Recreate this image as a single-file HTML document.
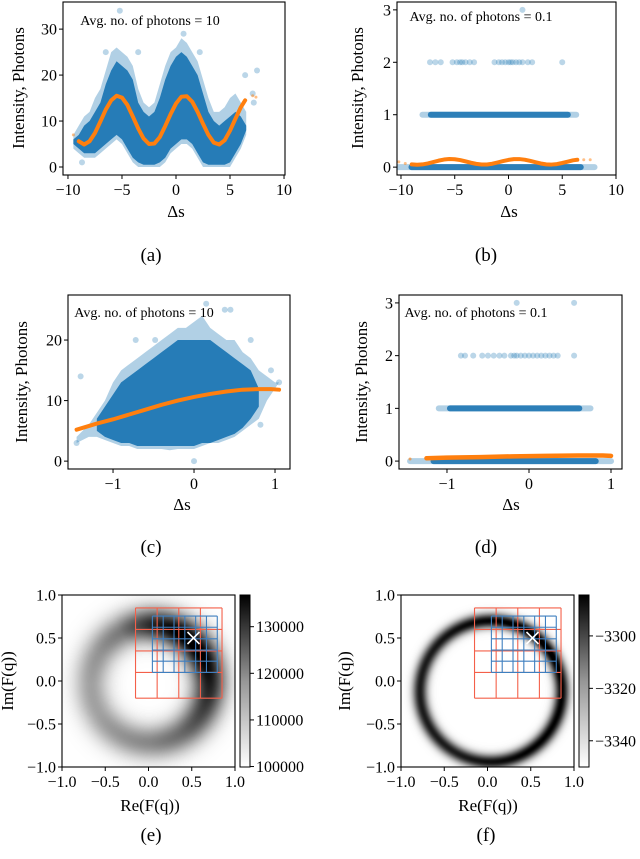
<!DOCTYPE html>
<html><head><meta charset="utf-8">
<style>
html,body{margin:0;padding:0;background:#fff;}
#wrap{position:relative;width:640px;height:859px;overflow:hidden;}
canvas{position:absolute;}
svg{position:absolute;left:0;top:0;}
text{font-family:"Liberation Serif",serif;fill:#000;}
</style></head>
<body>
<div id="wrap">
<canvas id="hmE" style="left:62px;top:595px" width="173" height="172"></canvas>
<canvas id="hmF" style="left:401px;top:595px" width="173" height="172"></canvas>
<svg id="svg" width="640" height="859" xmlns="http://www.w3.org/2000/svg"></svg>
</div>
<script>
// ---------- Panel (a) data ----------
const aCloudX = [-9.5,-9,-8.5,-8,-7.5,-7,-6.5,-6,-5.5,-5,-4.5,-4,-3.5,-3,-2.5,-2,-1.5,-1,-0.5,0,0.5,1,1.5,2,2.5,3,3.5,4,4.5,5,5.5,6,6.5];
const aOuterHi = [7,9,11,12,15,17,21,25,26,25,24,22,17,14,13,14,18,22,25,26,28,27,25,23,19,15,12,12,13,15,16,14,12];
const aOuterLo = [4,3,2,2,2,3,4,5,6,5,3,1,0,0,0,0,0,1,3,4,5,5,4,2,0,0,0,0,0,0,2,4,7];
const aCoreHi = [6,7,9,10,12,14,18,21,23,22,21,19,14,12,11,12,15,19,22,24,25,24,22,20,16,12,10,9,10,11,12,11,9];
const aCoreLo = [5,4,3,3,3,4,5,6,7,6,4,2,1,0.5,0.5,0.5,1,2,4,5,6,6,5,3,1,0.5,0.5,0.5,0.5,1,3,5,8];
const aOutX = [-5.2,0.7,-8.7,7.5,7.2,7.1,6.4,-3.5,-6.5,2.2];
const aOutY = [34,29,1,21,14,16,20,25,25,25];
const aFitX = [-9,-8.5,-8,-7.5,-7,-6.5,-6,-5.5,-5,-4.5,-4,-3.5,-3,-2.5,-2,-1.5,-1,-0.5,0,0.5,1,1.5,2,2.5,3,3.5,4,4.5,5,5.5,6,6.4];
const aFitY = [5.6,4.9,5.6,7.4,9.9,12.5,14.5,15.5,15.1,13.5,11.0,8.4,6.2,5.0,5.1,6.5,8.9,11.5,13.8,15.3,15.4,14.2,12.0,9.4,7.0,5.3,4.9,5.8,7.9,10.5,13.0,14.5];
const aFitOutX = [-9.5,7.1,7.4];
const aFitOutY = [7,15.5,15.2];
// ---------- Panel (b) data ----------
const bRowLevels = [0,1];
const bRowLightMin = [-10.3,-8.0];
const bRowLightMax = [8.0,6.3];
const bRowCoreMin = [-9.3,-7.5];
const bRowCoreMax = [7.0,5.8];
const bLvl2X = [-7.3,-6.8,-6.3,-5.2,-4.8,-4.5,-4.3,-4.0,-3.6,-3.2,-1.3,-0.9,-0.6,-0.3,0,0.2,0.4,0.7,1.0,1.3,1.8,2.2,5.0];
const bLvl3X = [1.3];
const bFitX = aFitX;
const bFitY = [0.052,0.045,0.052,0.071,0.097,0.124,0.145,0.155,0.151,0.135,0.110,0.084,0.062,0.050,0.051,0.065,0.089,0.115,0.138,0.153,0.154,0.142,0.120,0.094,0.070,0.053,0.049,0.058,0.079,0.105,0.130,0.140];
const bFitOutX = [-10.2,-9.6,7.0,7.6];
const bFitOutY = [0.1,0.07,0.14,0.14];
// ---------- Panel (c) data ----------
const cCloudX = [-1.45,-1.3,-1.2,-1.1,-1,-0.9,-0.8,-0.7,-0.6,-0.5,-0.4,-0.3,-0.2,-0.1,0,0.1,0.2,0.3,0.4,0.5,0.6,0.7,0.8,0.9,1.0,1.05];
const cOuterHi = [4,6,8,10,13,15,16,17,18,19,20,21,22,22,23,24,22,21,20,20,18,17,15,14,13,13];
const cOuterLo = [3,4,4,3.5,3,2.5,2.5,2,2,2,2,1.8,2,2,2,2.5,3,3,3.5,4,5,6,7,10,12,13];
const cCoreX = [-1.2,-1.1,-1,-0.9,-0.8,-0.7,-0.6,-0.5,-0.4,-0.3,-0.2,-0.1,0,0.1,0.2,0.3,0.4,0.5,0.6,0.7,0.8];
const cCoreHi = [7,9,11,13,14,15,16,17,18,19,20,20,20,20,20,19,18,17,16,15,12];
const cCoreLo = [5,4,3.5,3,3,2.5,2.5,2.5,2.5,2.5,2.5,2.5,2.5,3,3,3.5,4,4.5,5.5,7,9];
const cOutX = [-1.45,-1.4,-0.72,-0.48,0.15,0.38,0.45,0.7,0.95,1.05,0.82,0.0];
const cOutY = [3,14,20,20,26,25,25,20,15,13,6,0];
const cFitX = [-1.45,-1.2,-1,-0.8,-0.6,-0.4,-0.2,0,0.2,0.4,0.6,0.8,0.95,1.05];
const cFitY = [5.2,6.2,6.9,7.7,8.5,9.3,10.0,10.6,11.1,11.5,11.8,11.9,11.9,11.8];
// ---------- Panel (d) data ----------
const dRowLevels = [0,1];
const dRowLightMin = [-1.45,-1.1];
const dRowLightMax = [1.0,0.75];
const dRowCoreMin = [-1.2,-1.0];
const dRowCoreMax = [0.85,0.65];
const dLvl2X = [-0.83,-0.78,-0.68,-0.57,-0.5,-0.43,-0.36,-0.3,-0.22,-0.18,-0.15,-0.1,-0.05,0,0.05,0.1,0.15,0.2,0.25,0.3,0.35,0.55];
const dLvl3X = [-0.15,0.55];
const dFitX = [-1.25,-1.0,-0.6,-0.2,0.2,0.6,0.9,1.0];
const dFitY = [0.055,0.065,0.075,0.09,0.1,0.105,0.105,0.1];
// ---------- Panels (e),(f) data ----------
const ringAngles = [0,30,60,90,120,150,180,210,240,270,300,330,360];
const eAmp = [0.85,1.0,1.0,0.8,0.5,0.4,0.35,0.35,0.4,0.45,0.55,0.7,0.85];
const fAmp = [0.95,1.0,1.0,0.95,0.9,0.85,0.85,0.85,0.85,0.9,0.95,0.95,0.95];
const eRing = [0.02,-0.03,0.68,0.2]; // cx, cy, radius, width
const fRing = [0.04,-0.12,0.82,0.085];
const redCols = [-0.15,0.1,0.35,0.6,0.85];
const redRows = [0.85,0.6,0.35,0.1,-0.2];
const blueCols = [0.045,0.17,0.295,0.42,0.545,0.67,0.795];
const blueRows = [0.755,0.625,0.49,0.36,0.23,0.1];
const markerXY = [0.52,0.5];
const eCbTicks = [100000,110000,120000,130000];
const fCbTicks = [-3340,-3320,-3300];

const NS = "http://www.w3.org/2000/svg";
const svg = document.getElementById('svg');
function el(tag, attrs, parent){
  const e = document.createElementNS(NS, tag);
  for (const k in attrs) e.setAttribute(k, attrs[k]);
  (parent||svg).appendChild(e);
  return e;
}
const BLUE = '#1f77b4', ORANGE = '#ff7f0e';
const TICK = 16, LAB = 17, ANN = 14, CAP = 19;

function axes(name, L, T, R, B, xmin, xmax, ymin, ymax){
  const g = el('g', {});
  
  
  const sx = v => L + (v - xmin) / (xmax - xmin) * (R - L);
  const sy = v => B - (v - ymin) / (ymax - ymin) * (B - T);
  const clipId = name + '-clip';
  const cp = el('clipPath', {id: clipId}, g);
  el('rect', {x: L, y: T, width: R - L, height: B - T}, cp);
  const plot = el('g', {'clip-path': 'url(#' + clipId + ')'}, g);
  return {g, plot, sx, sy, L, T, R, B};
}
function frame(ax, xticks, xlabels, yticks, ylabels){
  const g = ax.g;
  const f = el('rect', {x: ax.L, y: ax.T, width: ax.R - ax.L, height: ax.B - ax.T, fill: 'none', stroke: '#000', 'stroke-width': 1.1}, g);
  
  
  xticks.forEach((v, i) => {
    const x = ax.sx(v);
    el('line', {x1: x, x2: x, y1: ax.B, y2: ax.B + 4, stroke: '#000', 'stroke-width': 1}, g);
    const t = el('text', {x: x, y: ax.B + 20, 'text-anchor': 'middle', 'font-size': TICK}, g);
    t.textContent = xlabels[i];
    
    
  });
  yticks.forEach((v, i) => {
    const y = ax.sy(v);
    el('line', {x1: ax.L - 4, x2: ax.L, y1: y, y2: y, stroke: '#000', 'stroke-width': 1}, g);
    const t = el('text', {x: ax.L - 6, y: y + 5.5, 'text-anchor': 'end', 'font-size': TICK}, g);
    t.textContent = ylabels[i];
    
    
  });
}
function label(txt, x, y, size, rot, name){
  const t = el('text', {x: x, y: y, 'text-anchor': 'middle', 'font-size': size}, svg);
  if (rot) t.setAttribute('transform', 'rotate(-90 ' + x + ' ' + y + ')');
  t.textContent = txt;
  
  
  return t;
}
function band(ax, xs, hi, lo, fill, op, name){
  let d = '';
  xs.forEach((v, i) => { d += (i ? 'L' : 'M') + ax.sx(v) + ' ' + ax.sy(hi[i]); });
  for (let i = xs.length - 1; i >= 0; i--) d += 'L' + ax.sx(xs[i]) + ' ' + ax.sy(lo[i]);
  d += 'Z';
  const p = el('path', {d: d, fill: fill, 'fill-opacity': op}, ax.plot);
  
  
}
function dots(ax, xs, ys, r, fill, op, name){
  xs.forEach((v, i) => {
    const c = el('circle', {cx: ax.sx(v), cy: ax.sy(ys[i]), r: r, fill: fill, 'fill-opacity': op}, ax.plot);
    
    
  });
}
function line(ax, xs, ys, w, name){
  let d = '';
  xs.forEach((v, i) => { d += (i ? 'L' : 'M') + ax.sx(v) + ' ' + ax.sy(ys[i]); });
  const p = el('path', {d: d, fill: 'none', stroke: ORANGE, 'stroke-width': w, 'stroke-linecap': 'round', 'stroke-linejoin': 'round'}, ax.plot);
  
  
}
function rows(ax, lv, lmin, lmax, cmin, cmax, h){
  lv.forEach((l, i) => {
    const y = ax.sy(l);
    const a = el('rect', {x: ax.sx(lmin[i]) - 3, y: y - h/2, width: ax.sx(lmax[i]) - ax.sx(lmin[i]) + 6, height: h, rx: h/2, fill: BLUE, 'fill-opacity': 0.35}, ax.plot);
    
    
    const b = el('rect', {x: ax.sx(cmin[i]), y: y - h/2, width: ax.sx(cmax[i]) - ax.sx(cmin[i]), height: h, rx: h/2, fill: BLUE, 'fill-opacity': 0.9}, ax.plot);
    
    
  });
}

// ---------- (a) ----------
const A = axes('panel-a', 63, 2, 285, 175, -10.46, 10.09, -1.74, 35.9);
band(A, aCloudX, aOuterHi, aOuterLo, BLUE, 0.35, 'scatter-cloud-sparse');
band(A, aCloudX, aCoreHi, aCoreLo, BLUE, 0.95, 'scatter-cloud-dense');
dots(A, aOutX, aOutY, 3, BLUE, 0.3, 'scatter-outlier');
line(A, aFitX, aFitY, 4, 'fit-curve');
dots(A, aFitOutX, aFitOutY, 1.5, ORANGE, 0.5, 'fit-point');
frame(A, [-10,-5,0,5,10], ['\u221210','\u22125','0','5','10'], [0,10,20,30], ['0','10','20','30']);
label('Avg. no. of photons = 10', 150, 25, ANN, false, 'annotation-a');
label('Intensity, Photons', 24, 88, LAB, true, 'y-axis-title-a');
label('\u0394s', 176, 217, LAB, false, 'x-axis-title-a');
label('(a)', 151, 261, CAP, false, 'caption-a');

// ---------- (b) ----------
const Bx = axes('panel-b', 397, 2, 616, 175, -10.37, 10.0, -0.15, 3.15);
rows(Bx, bRowLevels, bRowLightMin, bRowLightMax, bRowCoreMin, bRowCoreMax, 6);
dots(Bx, bLvl2X, bLvl2X.map(() => 2), 3, BLUE, 0.3, 'scatter-level-2');
dots(Bx, bLvl3X, bLvl3X.map(() => 3), 3, BLUE, 0.3, 'scatter-level-3');
line(Bx, bFitX, bFitY, 4, 'fit-curve');
dots(Bx, bFitOutX, bFitOutY, 1.5, ORANGE, 0.5, 'fit-point');
frame(Bx, [-10,-5,0,5,10], ['\u221210','\u22125','0','5','10'], [0,1,2,3], ['0','1','2','3']);
label('Avg. no. of photons = 0.1', 481, 21, ANN, false, 'annotation-b');
label('Intensity, Photons', 363, 88, LAB, true, 'y-axis-title-b');
label('\u0394s', 509, 217, LAB, false, 'x-axis-title-b');
label('(b)', 486, 261, CAP, false, 'caption-b');

// ---------- (c) ----------
const C = axes('panel-c', 68, 295, 290, 469, -1.556, 1.185, -1.3, 27.44);
band(C, cCloudX, cOuterHi, cOuterLo, BLUE, 0.35, 'scatter-cloud-sparse');
band(C, cCoreX, cCoreHi, cCoreLo, BLUE, 0.95, 'scatter-cloud-dense');
dots(C, cOutX, cOutY, 3, BLUE, 0.3, 'scatter-outlier');
line(C, cFitX, cFitY, 4, 'fit-curve');
frame(C, [-1,0,1], ['\u22121','0','1'], [0,10,20], ['0','10','20']);
label('Avg. no. of photons = 10', 144, 317, ANN, false, 'annotation-c');
label('Intensity, Photons', 27, 382, LAB, true, 'y-axis-title-c');
label('\u0394s', 182, 510, LAB, false, 'x-axis-title-c');
label('(c)', 151, 553, CAP, false, 'caption-c');

// ---------- (d) ----------
const D = axes('panel-d', 399, 295, 622, 469, -1.585, 1.134, -0.15, 3.15);
rows(D, dRowLevels, dRowLightMin, dRowLightMax, dRowCoreMin, dRowCoreMax, 6);
dots(D, dLvl2X, dLvl2X.map(() => 2), 3, BLUE, 0.3, 'scatter-level-2');
dots(D, dLvl3X, dLvl3X.map(() => 3), 3, BLUE, 0.3, 'scatter-level-3');
line(D, dFitX, dFitY, 4.5, 'fit-curve');
dots(D, [-1.45], [0.04], 1.5, ORANGE, 0.6, 'fit-point');
frame(D, [-1,0,1], ['\u22121','0','1'], [0,1,2,3], ['0','1','2','3']);
label('Avg. no. of photons = 0.1', 476, 317, ANN, false, 'annotation-d');
label('Intensity, Photons', 367, 382, LAB, true, 'y-axis-title-d');
label('\u0394s', 511, 510, LAB, false, 'x-axis-title-d');
label('(d)', 486, 553, CAP, false, 'caption-d');

// ---------- (e),(f) heatmaps ----------
function ampAt(amp, deg){
  const i = Math.min(11, Math.floor(deg / 30)), f = (deg - i * 30) / 30;
  return amp[i] * (1 - f) + amp[i + 1] * f;
}
function drawRing(id, ring, amp){
  const cv = document.getElementById(id), ctx = cv.getContext('2d');
  const W = cv.width, H = cv.height, img = ctx.createImageData(W, H);
  for (let py = 0; py < H; py++) for (let px = 0; px < W; px++) {
    const x = -1 + 2 * (px + 0.5) / W, y = 1 - 2 * (py + 0.5) / H;
    const dx = x - ring[0], dy = y - ring[1];
    const r = Math.sqrt(dx*dx + dy*dy);
    let deg = Math.atan2(dy, dx) * 180 / Math.PI; if (deg < 0) deg += 360;
    const v = ampAt(amp, deg) * Math.exp(-Math.pow((r - ring[2]) / ring[3], 2));
    const g = Math.round(255 * (1 - Math.min(1, v * 1.05)));
    const k = 4 * (py * W + px);
    img.data[k] = g; img.data[k+1] = g; img.data[k+2] = g; img.data[k+3] = 255;
  }
  ctx.putImageData(img, 0, 0);
}
drawRing('hmE', eRing, eAmp);
drawRing('hmF', fRing, fAmp);

const gradDefs = el('defs', {});
const lg = el('linearGradient', {id: 'cbgrad', x1: 0, y1: 1, x2: 0, y2: 0}, gradDefs);
el('stop', {offset: 0, 'stop-color': '#ffffff'}, lg);
el('stop', {offset: 0.5, 'stop-color': '#969696'}, lg);
el('stop', {offset: 1, 'stop-color': '#000000'}, lg);

function heatPanel(key, L, cbL, cbMin, cbMax, cbTicks, cbLabels){
  const ax = axes('panel-' + key, L, 595, L + 173, 767, -1, 1, -1, 1);
  redCols.forEach(v => el('line', {x1: ax.sx(v), x2: ax.sx(v), y1: ax.sy(redRows[0]), y2: ax.sy(redRows[redRows.length-1]), stroke: '#f4604a', 'stroke-width': 1.1}, ax.plot));
  redRows.forEach(v => el('line', {x1: ax.sx(redCols[0]), x2: ax.sx(redCols[redCols.length-1]), y1: ax.sy(v), y2: ax.sy(v), stroke: '#f4604a', 'stroke-width': 1.1}, ax.plot));
  blueCols.forEach(v => el('line', {x1: ax.sx(v), x2: ax.sx(v), y1: ax.sy(blueRows[0]), y2: ax.sy(blueRows[blueRows.length-1]), stroke: '#3f7fbf', 'stroke-width': 1.1}, ax.plot));
  blueRows.forEach(v => el('line', {x1: ax.sx(blueCols[0]), x2: ax.sx(blueCols[blueCols.length-1]), y1: ax.sy(v), y2: ax.sy(v), stroke: '#3f7fbf', 'stroke-width': 1.1}, ax.plot));
  const mx = ax.sx(markerXY[0]), my = ax.sy(markerXY[1]);
  const m = el('path', {d: 'M' + (mx-6) + ' ' + (my-6) + 'L' + (mx+6) + ' ' + (my+6) + 'M' + (mx-6) + ' ' + (my+6) + 'L' + (mx+6) + ' ' + (my-6), stroke: '#fff', 'stroke-width': 1.6}, ax.plot);
  
  
  const t = [-1,-0.5,0,0.5,1], tl = ['\u22121.0','\u22120.5','0.0','0.5','1.0'];
  frame(ax, t, tl, t, tl);
  const cb = el('rect', {x: cbL, y: 595, width: 10, height: 172, fill: 'url(#cbgrad)', stroke: '#000', 'stroke-width': 1}, svg);
  
  
  cbTicks.forEach((v, i) => {
    const y = 767 - (v - cbMin) / (cbMax - cbMin) * 172;
    el('line', {x1: cbL + 10, x2: cbL + 14, y1: y, y2: y, stroke: '#000'}, svg);
    const tt = el('text', {x: cbL + 16, y: y + 5.5, 'font-size': TICK}, svg);
    tt.textContent = cbLabels[i];
    
    
  });
}
heatPanel('e', 62, 240, 99900, 136800, eCbTicks, ['100000','110000','120000','130000']);
heatPanel('f', 401, 579, -3350, -3284.4, fCbTicks, ['\u22123340','\u22123320','\u22123300']);
label('Im(F(q))', 13, 681, LAB, true, 'y-axis-title-e');
label('Re(F(q))', 150, 811, LAB, false, 'x-axis-title-e');
label('(e)', 151, 841, CAP, false, 'caption-e');
label('Im(F(q))', 350, 681, LAB, true, 'y-axis-title-f');
label('Re(F(q))', 488, 811, LAB, false, 'x-axis-title-f');
label('(f)', 486, 841, CAP, false, 'caption-f');
</script>
</body></html>
